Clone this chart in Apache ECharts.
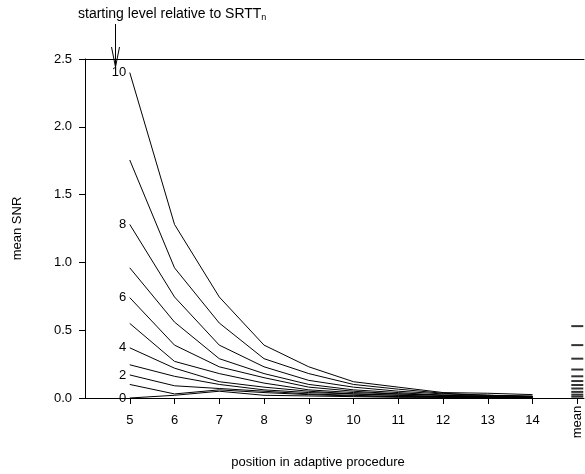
<!DOCTYPE html>
<html><head><meta charset="utf-8">
<script src="https://cdn.jsdelivr.net/npm/echarts@6/dist/echarts.min.js"></script>
<style>html,body{margin:0;padding:0;background:#fff}#c{width:585px;height:474px}</style>
</head><body><div id="c"></div>
<script>
var positions = [5, 6, 7, 8, 9, 10, 11, 12, 13, 14];
var meanPosition = 15;
var levels = [10, 9, 8, 7, 6, 5, 4, 3, 2, 1, 0];
var labelledLevels = [10, 8, 6, 4, 2, 0];
var L10 = [2.40, 1.28, 0.745, 0.39, 0.23, 0.12, 0.08, 0.04, 0.035, 0.025];
var L9  = [1.755, 0.96, 0.553, 0.29, 0.18, 0.10, 0.065, 0.035, 0.02, 0.015];
var L8  = [1.28, 0.745, 0.39, 0.23, 0.13, 0.08, 0.05, 0.03, 0.02, 0.01];
var L7  = [0.96, 0.56, 0.29, 0.18, 0.10, 0.06, 0.04, 0.02, 0.02, 0.01];
var L6  = [0.74, 0.39, 0.23, 0.15, 0.08, 0.05, 0.03, 0.02, 0.01, 0.01];
var L5  = [0.55, 0.27, 0.18, 0.11, 0.06, 0.04, 0.03, 0.02, 0.01, 0.01];
var L4  = [0.37, 0.22, 0.12, 0.08, 0.05, 0.03, 0.02, 0.01, 0.01, 0.01];
var L3  = [0.245, 0.16, 0.10, 0.06, 0.04, 0.03, 0.02, 0.01, 0.01, 0.005];
var L2  = [0.17, 0.09, 0.07, 0.05, 0.03, 0.02, 0.01, 0.01, 0.005, 0.005];
var L1  = [0.10, 0.03, 0.06, 0.04, 0.025, 0.015, 0.01, 0.005, 0.005, 0.005];
var L0  = [0.00, 0.02, 0.05, 0.02, 0.015, 0.01, 0.005, 0.005, 0.005, 0.005];
var levelData = [L10, L9, L8, L7, L6, L5, L4, L3, L2, L1, L0];
var means = [0.53, 0.39, 0.29, 0.21, 0.16, 0.125, 0.096, 0.07, 0.045, 0.025, 0.01];
var yTicks = [0, 0.5, 1.0, 1.5, 2.0, 2.5];
var xTickValues = [5, 6, 7, 8, 9, 10, 11, 12, 13, 14, 15];

var FONT = 'Liberation Sans, Arial, sans-serif';
var chart = echarts.init(document.getElementById('c'), null, {renderer: 'canvas'});

var series = levelData.map(function (arr, i) {
  var lev = levels[i];
  return {
    type: 'line', name: String(lev), animation: false,
    symbol: 'circle', symbolSize: 1, showSymbol: true,
    itemStyle: {color: 'rgba(0,0,0,0)'},
    lineStyle: {color: '#000', width: 1},
    emphasis: {disabled: true},
    data: arr.map(function (v, j) {
      var d = {value: [positions[j], v]};
      if (j === 0 && labelledLevels.indexOf(lev) >= 0) {
        d.label = {show: true, position: 'left', distance: 3, formatter: String(lev),
          color: '#000', fontSize: 13, fontFamily: FONT};
      }
      return d;
    })
  };
});
series.push({
  type: 'scatter', symbol: 'rect', symbolSize: [12, 2], animation: false,
  itemStyle: {color: '#000'},
  data: means.map(function (m) { return [meanPosition, m]; })
});

chart.setOption({
  animation: false,
  grid: {left: 85, top: 59, right: 1, bottom: 76, containLabel: false},
  xAxis: [{
    type: 'value', min: 4, max: 15.15, interval: 1,
    splitLine: {show: false},
    axisLine: {lineStyle: {color: '#000', width: 1}},
    axisTick: {length: 6, lineStyle: {color: '#000'}, customValues: xTickValues},
    axisLabel: {color: '#000', fontSize: 13, fontFamily: FONT, margin: 16,
      customValues: positions},
  }, {
    type: 'value', min: 4, max: 15.15, position: 'top',
    splitLine: {show: false},
    axisLine: {show: true, lineStyle: {color: '#000', width: 1}},
    axisTick: {show: false}, axisLabel: {show: false}
  }],
  yAxis: {
    type: 'value', min: 0, max: 2.5, interval: 0.5,
    splitLine: {show: false},
    axisLine: {show: true, lineStyle: {color: '#000', width: 1}},
    axisTick: {show: true, length: 6, lineStyle: {color: '#000'}},
    axisLabel: {color: '#000', fontSize: 13, fontFamily: FONT, margin: 13,
      formatter: function (v) { return v.toFixed(1); }},
    name: 'mean SNR', nameLocation: 'middle', nameGap: 61,
    nameTextStyle: {color: '#000', fontSize: 13, fontFamily: FONT}
  },
  graphic: [
    {type: 'text', x: 318, y: 462, style: {text: 'position in adaptive procedure', fill: '#000',
      font: '13px ' + FONT, textAlign: 'center', textVerticalAlign: 'middle'}},
    {type: 'text', x: 577, y: 422, rotation: Math.PI / 2, style: {text: 'mean', fill: '#000',
      font: '13px ' + FONT, textAlign: 'center', textVerticalAlign: 'middle'}},
    {type: 'text', x: 78, y: 14, style: {
      text: '{a|starting level relative to SRTT}{s|n}', textVerticalAlign: 'middle',
      rich: {a: {fontSize: 14, fontFamily: FONT, fill: '#000'},
             s: {fontSize: 9, fontFamily: FONT, fill: '#000', padding: [7, 0, 0, 0]}}}},
    {type: 'line', shape: {x1: 115.5, y1: 24, x2: 115.5, y2: 67}, style: {stroke: '#000', lineWidth: 1}},
    {type: 'polyline', shape: {points: [[111.5, 47], [115.5, 67], [119.5, 47]]}, style: {stroke: '#000', lineWidth: 1, fill: null}}
  ],
  series: series
});
</script></body></html>
